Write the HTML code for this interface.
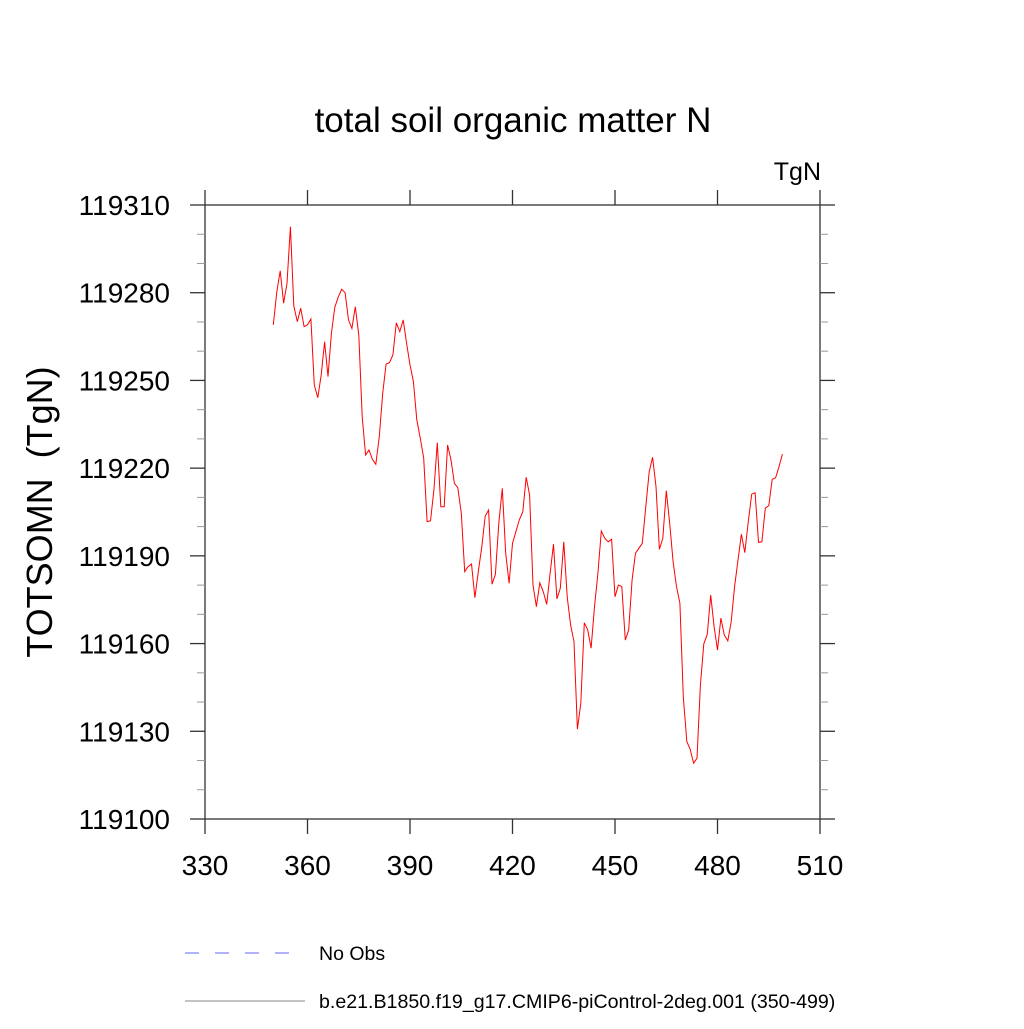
<!DOCTYPE html>
<html><head><meta charset="utf-8"><style>
body{margin:0;background:#fff}
svg text{font-family:"Liberation Sans",sans-serif;fill:#000;white-space:pre}
</style></head><body>
<svg id="chart" width="1024" height="1024" xmlns="http://www.w3.org/2000/svg">
<text x="513" y="132" font-size="35" text-anchor="middle">total soil organic matter N</text>
<text x="821" y="180" font-size="25" text-anchor="end">TgN</text>
<text transform="translate(52,512) rotate(-90)" font-size="36" text-anchor="middle" xml:space="preserve">TOTSOMN  (TgN)</text>
<g id="axes"></g>
<g id="series"></g>
<line x1="185" y1="953" x2="305" y2="953" stroke="#6666ff" stroke-width="1" stroke-dasharray="14,16"/>
<text x="319" y="960" font-size="19.5">No Obs</text>
<line x1="185" y1="1001" x2="305" y2="1001" stroke="#888" stroke-width="1"/>
<text x="319" y="1008" font-size="19.6">b.e21.B1850.f19_g17.CMIP6-piControl-2deg.001 (350-499)</text>
</svg>
<script>
const xTicks=[330,360,390,420,450,480,510];
const yTicks=[119100,119130,119160,119190,119220,119250,119280,119310];
const startYear=350;
const values=[119269,119280.3,119287.5,119276.4,119283.2,119302.6,119275.5,119270.1,119274.7,119268.4,
119269,119271,119248.4,119244.1,119251.9,119263.2,119251.3,119266.1,119275,119278.6,
119281.2,119280,119270.7,119267.8,119275.2,119265.5,119237.6,119224.5,119226.2,119223,
119221.3,119230.8,119245.6,119255.6,119256.1,119258.7,119269.7,119266.7,119270.7,119262.7,
119255.3,119249.6,119236.5,119230.2,119223.4,119201.7,119202,119212.5,119228.7,119206.8,
119206.8,119227.9,119222.8,119214.8,119213.3,119204.6,119184.6,119186.3,119187.2,119175.7,
119184.6,119193.1,119203.6,119205.7,119180.3,119183.7,119201.1,119213.1,119190.9,119180.6,
119194.3,119198.3,119202.3,119205.1,119216.9,119210.8,119180,119172.6,119180.8,119177.7,
119173.4,119184,119194,119175.3,119178.9,119194.8,119176,119166.4,119160.6,119130.7,
119139.6,119167.1,119164.7,119158.4,119172.6,119184,119198.5,119196,119194.8,119195.7,
119176,119180,119179.5,119161.2,119164.7,119181.8,119190.9,119192.6,119194.3,119206.8,
119218.8,119223.7,119213.7,119192.2,119196,119212.3,119201.1,119188,119179.5,119173.8,
119141.8,119126.5,119123.8,119119.1,119120.8,119145.8,119159.9,119163.2,119176.6,119165.8,
119157.8,119168.7,119162.9,119160.9,119167.5,119179.5,119188.6,119197.4,119191.1,119201.7,
119211.1,119211.6,119194.6,119194.8,119206.3,119207.2,119216.2,119216.7,119220.5,119224.8];
const X0=205,X1=820,Y0=819,Y1=205;
const xmin=330,xmax=510,ymin=119100,ymax=119310;
function sx(v){return X0+(v-xmin)/(xmax-xmin)*(X1-X0);}
function sy(v){return Y0-(v-ymin)/(ymax-ymin)*(Y0-Y1);}
const NS="http://www.w3.org/2000/svg";
const axes=document.getElementById('axes');
function ln(x1,y1,x2,y2,w,c,name){const l=document.createElementNS(NS,'line');
l.setAttribute('x1',x1);l.setAttribute('y1',y1);l.setAttribute('x2',x2);l.setAttribute('y2',y2);
l.setAttribute('stroke',c);l.setAttribute('stroke-width',w);


axes.appendChild(l);return l;}
const fr=document.createElementNS(NS,'rect');
fr.setAttribute('x',X0);fr.setAttribute('y',Y1);fr.setAttribute('width',X1-X0);fr.setAttribute('height',Y0-Y1);
fr.setAttribute('fill','none');fr.setAttribute('stroke','#333');fr.setAttribute('stroke-width','1.3');


axes.appendChild(fr);
xTicks.forEach(t=>{const x=sx(t);
ln(x,Y0,x,Y0+15,1.3,'#333','x-tick');ln(x,Y1,x,Y1-15,1.3,'#333','x-tick-top');
const tx=document.createElementNS(NS,'text');tx.setAttribute('x',x);tx.setAttribute('y',Y0+56);
tx.setAttribute('font-size','28');tx.setAttribute('text-anchor','middle');tx.textContent=t;


axes.appendChild(tx);});
for(let v=ymin;v<=ymax;v+=10){const y=sy(v);const major=(v-ymin)%30===0;
const L=major?15:8;
ln(X0-L,y,X0,y,major?1.3:1,major?'#333':'#999','y-tick');ln(X1,y,X1+L,y,major?1.3:1,major?'#333':'#999','y-tick-right');}
yTicks.forEach(t=>{const y=sy(t);
const tx=document.createElementNS(NS,'text');tx.setAttribute('x',X0-35);tx.setAttribute('y',y+10);
tx.setAttribute('font-size','28');tx.setAttribute('text-anchor','end');tx.textContent=t;


axes.appendChild(tx);});
const p=document.createElementNS(NS,'polyline');
p.setAttribute('points',values.map((v,i)=>sx(startYear+i).toFixed(1)+','+sy(v).toFixed(1)).join(' '));
p.setAttribute('fill','none');p.setAttribute('stroke','#ff0000');p.setAttribute('stroke-width','1');


document.getElementById('series').appendChild(p);
</script>
</body></html>
